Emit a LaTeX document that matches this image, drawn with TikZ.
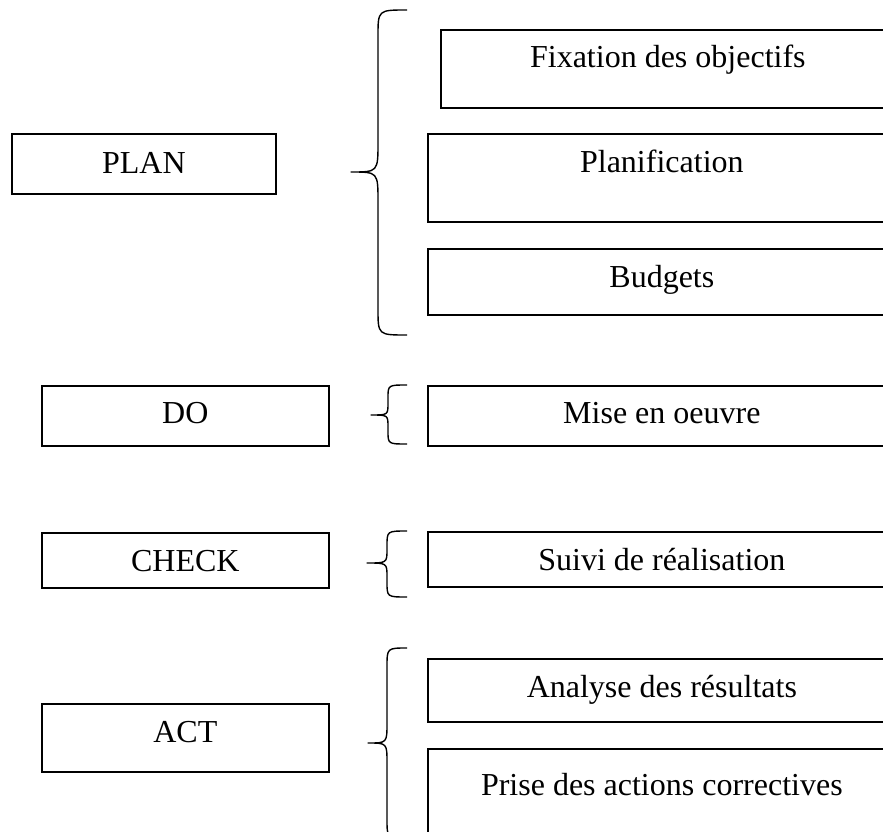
\documentclass[tikz,border=0pt]{standalone}
\usepackage{fontspec}
\setmainfont{Liberation Serif}
\begin{document}
\begin{tikzpicture}[x=1pt,y=-1pt,
  box/.style={draw, line width=1.7pt, rectangle, inner sep=0pt, anchor=north west},
  lbl/.style={anchor=base, inner sep=0pt, font=\fontsize{32}{38}\selectfont},
  curly/.style={draw, line width=1.4pt, line join=round}]
\useasboundingbox (0,0) rectangle (883,832);
\clip (0,0) rectangle (883,832);

% #1 name, #2 x, #3 y, #4 width, #5 height, #6 baseline drop, #7 text
\newcommand\stagebox[7]{%
  \node[box, minimum width=#4pt, minimum height=#5pt] (#1) at (#2,#3) {};
  \node[lbl] (#1-t) at ([yshift=-#6pt]#1.north) {#7};}

% left-facing curly brace: #1 end x, #2 stem x, #3 tip x, #4 top y, #5 tip y, #6 bottom y, #7 end curl, #8 tip curl
\newcommand\curlybrace[8]{%
  \draw[curly] (#1,#4) .. controls (#2,#4) .. (#2,{#4+#7})
    -- (#2,{#5-#8}) .. controls (#2,#5) .. (#3,#5)
    .. controls (#2,#5) .. (#2,{#5+#8})
    -- (#2,{#6-#7}) .. controls (#2,#6) .. (#1,#6);}

% PLAN
\stagebox{plan}{11}{133}{264}{60}{40}{PLAN}
\curlybrace{407}{378}{351}{10}{172}{335}{26}{30}
\stagebox{fix}{440}{29}{454}{78}{39}{Fixation des objectifs}
\stagebox{planif}{427}{133}{468}{88}{39}{Planification}
\stagebox{budg}{427}{248}{468}{66}{39}{Budgets}

% DO
\stagebox{do}{41}{385}{287}{60}{38}{DO}
\curlybrace{407}{388}{371}{385}{415}{444}{13}{12}
\stagebox{mise}{427}{385}{468}{60}{38}{Mise en oeuvre}

% CHECK
\stagebox{check}{41}{532}{287}{55}{39}{CHECK}
\curlybrace{407}{387}{367}{531}{563}{597}{15}{14}
\stagebox{suivi}{427}{531}{468}{55}{39}{Suivi de réalisation}

% ACT
\stagebox{act}{41}{703}{287}{68}{39}{ACT}
\curlybrace{407}{387}{368}{648}{743}{838}{19}{20}
\stagebox{anal}{427}{658}{468}{63}{39}{Analyse des résultats}
\stagebox{prise}{427}{748}{468}{110}{47}{Prise des actions correctives}
\end{tikzpicture}
\end{document}
